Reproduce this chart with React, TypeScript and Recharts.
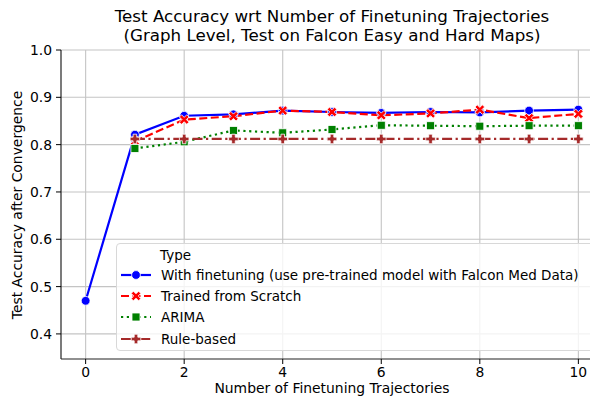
import { LineChart, Line, XAxis, YAxis, CartesianGrid } from 'recharts';

const steps = [0, 1, 2, 3, 4, 5, 6, 7, 8, 9, 10];
const withFinetuning = [0.47, 0.821, 0.861, 0.864, 0.872, 0.869, 0.867, 0.869, 0.868, 0.872, 0.874];
const fromScratch = [null, 0.807, 0.853, 0.86, 0.872, 0.869, 0.862, 0.866, 0.874, 0.856, 0.865];
const arima = [null, 0.792, 0.806, 0.83, 0.825, 0.832, 0.841, 0.84, 0.839, 0.84, 0.84];
const ruleBased = [null, 0.812, 0.812, 0.812, 0.812, 0.812, 0.812, 0.812, 0.812, 0.812, 0.812];

const xTicks = [0, 2, 4, 6, 8, 10];
const yTicks = [0.4, 0.5, 0.6, 0.7, 0.8, 0.9, 1.0];

const rows = steps.map((s, i) => ({
  step: s,
  finetune: withFinetuning[i],
  scratch: fromScratch[i],
  arima: arima[i],
  rule: ruleBased[i],
}));

const FONT = '"DejaVu Sans", sans-serif';
const FS = 13.9;

type DotProps = { cx?: number; cy?: number; index?: number };

function Circle({ cx, cy, color }: DotProps & { color: string }) {
  if (cx == null || cy == null) return null;
  return <circle cx={cx} cy={cy} r={4.4} fill={color} stroke="#fff" strokeWidth={0.8} />;
}

function XMark({ cx, cy, color }: DotProps & { color: string }) {
  if (cx == null || cy == null) return null;
  const a = 4.8, t = 2.2;
  const d = `M${-a},${-a + t} L${-a + t},${-a} L0,${-t} L${a - t},${-a} L${a},${-a + t} L${t},0 L${a},${a - t} L${a - t},${a} L0,${t} L${-a + t},${a} L${-a},${a - t} L${-t},0 Z`;
  return <path transform={`translate(${cx},${cy})`} d={d} fill={color} stroke="#fff" strokeWidth={0.8} />;
}

function Square({ cx, cy, color }: DotProps & { color: string }) {
  if (cx == null || cy == null) return null;
  return <rect x={cx - 4} y={cy - 4} width={8} height={8} fill={color} stroke="#fff" strokeWidth={0.8} />;
}

function Plus({ cx, cy, color }: DotProps & { color: string }) {
  if (cx == null || cy == null) return null;
  const a = 4.8, t = 1.8;
  const d = `M${-t},${-a} L${t},${-a} L${t},${-t} L${a},${-t} L${a},${t} L${t},${t} L${t},${a} L${-t},${a} L${-t},${t} L${-a},${t} L${-a},${-t} L${-t},${-t} Z`;
  return <path transform={`translate(${cx},${cy})`} d={d} fill={color} stroke="#fff" strokeWidth={0.8} />;
}

const series = [
  { key: 'finetune', name: 'With finetuning (use pre-trained model with Falcon Med Data)', color: '#0000ff', dash: undefined as string | undefined, Mark: Circle },
  { key: 'scratch', name: 'Trained from Scratch', color: '#ff0000', dash: '8 3.5', Mark: XMark },
  { key: 'arima', name: 'ARIMA', color: '#008000', dash: '2.2 3.6', Mark: Square },
  { key: 'rule', name: 'Rule-based', color: '#a52a2a', dash: '10 3.5 2.2 3.5', Mark: Plus },
];

function LegendBox() {
  return (
    <div style={{
      position: 'absolute', left: 116, top: 243, width: 480, height: 108,
      border: '1px solid #d8d8d8', borderRadius: 4, background: 'rgba(255,255,255,0.8)',
      boxSizing: 'border-box', fontFamily: FONT, fontSize: 13.5, color: '#000',
    }}>
      <div style={{ position: 'absolute', left: 43, top: 2, lineHeight: '18px' }}>Type</div>
      {series.map((s, i) => {
        const Mark = s.Mark;
        return (
          <div key={s.key} style={{ position: 'absolute', left: 3, top: 22 + i * 21.2, height: 18, display: 'flex', alignItems: 'center', whiteSpace: 'nowrap' }}>
            <svg width={32} height={18}>
              <line x1={1} x2={31} y1={9} y2={9} stroke={s.color} strokeWidth={2.2} strokeDasharray={s.dash} />
              <Mark cx={16} cy={9} color={s.color} />
            </svg>
            <span style={{ marginLeft: 9, lineHeight: '18px' }}>{s.name}</span>
          </div>
        );
      })}
    </div>
  );
}

export default function App() {
  return (
    <div style={{ position: 'relative', width: 598, height: 404, overflow: 'hidden', margin: -8, background: '#fff' }}>
      <div style={{ position: 'absolute', left: 0, width: 664, top: 7, textAlign: 'center', fontFamily: FONT, fontSize: 16.7, lineHeight: '19px', color: '#000' }}>
        Test Accuracy wrt Number of Finetuning Trajectories<br />(Graph Level, Test on Falcon Easy and Hard Maps)
      </div>
      <LineChart width={610} height={404} data={rows} margin={{ top: 50, right: 7, bottom: 0, left: 0 }}>
        <CartesianGrid stroke="#c4c4c4" strokeWidth={1.1} horizontalValues={yTicks} verticalValues={xTicks} />
        <XAxis
          dataKey="step" type="number" domain={[-0.5, 10.5]} ticks={xTicks} allowDataOverflow
          height={45} tickSize={5} tickMargin={3}
          stroke="#000" tick={{ fontFamily: FONT, fontSize: FS, fill: '#000' }}
          axisLine={{ stroke: '#222', strokeWidth: 1.2 }}
        />
        <YAxis
          type="number" domain={[0.347, 1.0]} ticks={yTicks} allowDataOverflow
          width={61} tickSize={5} tickMargin={4}
          tickFormatter={(v: number) => v.toFixed(1)}
          stroke="#000" tick={{ fontFamily: FONT, fontSize: FS, fill: '#000' }}
          axisLine={{ stroke: '#222', strokeWidth: 1.2 }}
        />
        {series.map((s) => {
          const Mark = s.Mark;
          return (
            <Line
              key={s.key}
              dataKey={s.key}
              name={s.name}
              type="linear"
              stroke={s.color}
              strokeWidth={2.2}
              strokeDasharray={s.dash}
              isAnimationActive={false}
              dot={(p: any) => <Mark key={`${s.key}-${p.index}`} cx={p.cx} cy={p.cy} color={s.color} />}
              activeDot={false}
            />
          );
        })}
      </LineChart>
      <div style={{ position: 'absolute', left: 0, width: 664, top: 379, textAlign: 'center', fontFamily: FONT, fontSize: FS, color: '#000', lineHeight: '18px' }}>
        Number of Finetuning Trajectories
      </div>
      <div style={{
        position: 'absolute', left: 17, top: 204.5, transform: 'translate(-50%, -50%) rotate(-90deg)',
        whiteSpace: 'nowrap', fontFamily: FONT, fontSize: FS, color: '#000', lineHeight: '18px',
      }}>
        Test Accuracy after Convergence
      </div>
      <LegendBox />
    </div>
  );
}
